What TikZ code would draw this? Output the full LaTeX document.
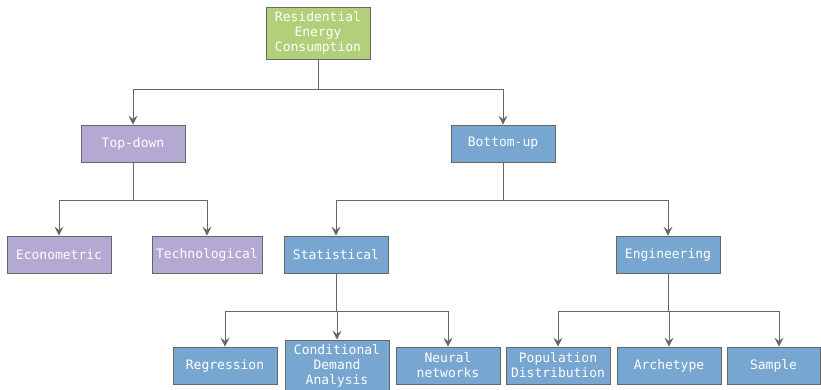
\documentclass[tikz,border=0pt]{standalone}
\usepackage{fontspec}
\setmonofont{DejaVu Sans Mono}
\usetikzlibrary{arrows.meta,positioning}
\definecolor{rootgreen}{HTML}{B2CF7A}
\definecolor{tdpurple}{HTML}{B3A9D3}
\definecolor{bublue}{HTML}{77A6D0}
\definecolor{edgegrey}{HTML}{666666}
\tikzset{
  box style/.style={rectangle, draw=edgegrey, line width=0.8pt,
    minimum width=104pt, minimum height=37pt, inner sep=1pt, align=center,
    text=white, font=\ttfamily\fontsize{13}{15}\selectfont},
  arr style/.style={-{Stealth[length=9pt,width=9pt,inset=3.5pt]}, draw=edgegrey, line width=0.9pt}
}

\begin{document}
\begin{tikzpicture}[x=1pt,y=-1pt]
\useasboundingbox (0,0) rectangle (821,390);
\node[box style, fill=rootgreen, minimum height=52pt] (root) at (318,33)
  {Residential\\Energy\\Consumption};
\node[box style, fill=tdpurple] (td) at (133,143.5) {Top-down};
\node[box style, fill=bublue]   (bu) at (503,143.5) {Bottom-up};
\node[box style, fill=tdpurple] (eco)  at (59,254.5)  {Econometric};
\node[box style, fill=tdpurple, minimum width=110pt] (tech) at (207,254.5) {Technological};
\node[box style, fill=bublue]   (stat) at (336,254.5) {Statistical};
\node[box style, fill=bublue]   (eng)  at (668,254.5) {Engineering};
\node[box style, fill=bublue] (reg)  at (225,365.5) {Regression};
\node[box style, fill=bublue, minimum height=52pt] (cda) at (337,366)
  {Conditional\\Demand\\Analysis};
\node[box style, fill=bublue] (nn)   at (448,365.5) {Neural\\networks};
\node[box style, fill=bublue] (pop)  at (558,365.5) {Population\\Distribution};
\node[box style, fill=bublue] (arch) at (669,365.5) {Archetype};
\node[box style, fill=bublue, minimum width=93pt] (samp) at (773.5,365.5) {Sample};
\draw[arr style] (root.south) -- ++(0,30) -| (td);
\draw[arr style] (root.south) -- ++(0,30) -| (bu);
\draw[arr style] (td.south) -- ++(0,38) -| (eco);
\draw[arr style] (td.south) -- ++(0,38) -| (tech);
\draw[arr style] (bu.south) -- ++(0,38) -| (stat);
\draw[arr style] (bu.south) -- ++(0,38) -| (eng);
\draw[arr style] (stat.south) -- ++(0,38) -| (reg);
\draw[arr style] (stat.south) -- ++(0,38) -| (cda);
\draw[arr style] (stat.south) -- ++(0,38) -| (nn);
\draw[arr style] (eng.south) -- ++(0,38) -| (pop);
\draw[arr style] (eng.south) -- ++(0,38) -| (arch);
\draw[arr style] (eng.south) -- ++(0,38) -| ([xshift=5.5pt]samp.north);
\end{tikzpicture}
\end{document}
